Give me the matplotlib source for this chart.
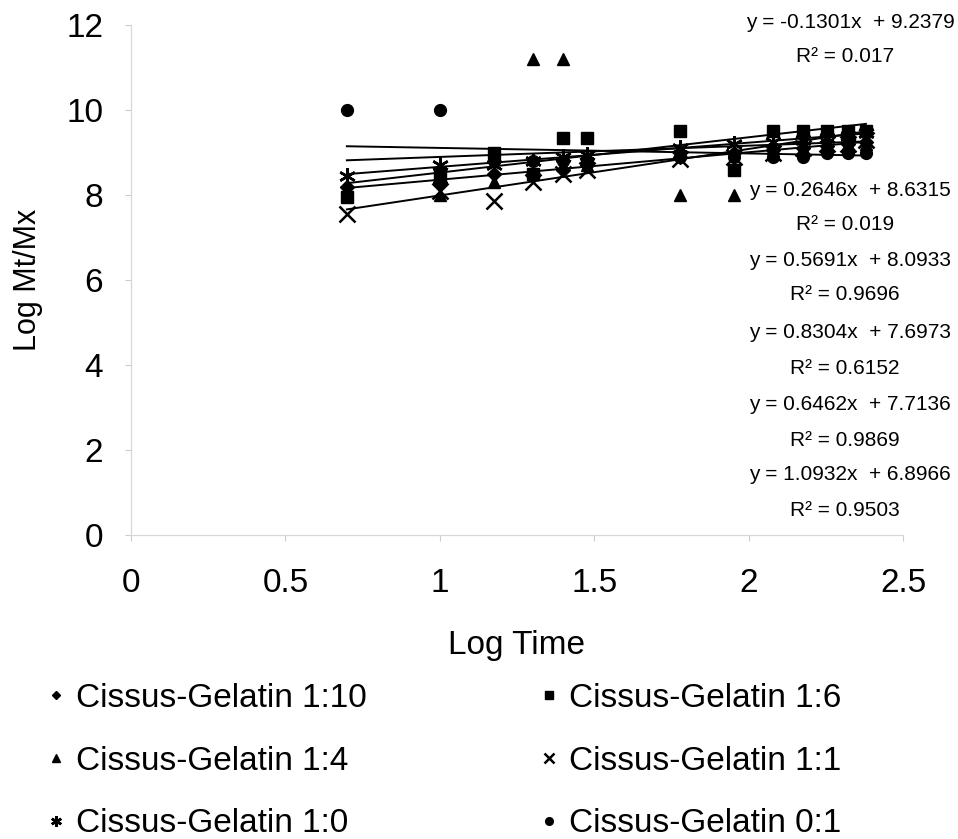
import matplotlib
matplotlib.use("Agg")
import matplotlib.pyplot as plt
import numpy as np

plt.rcParams['font.family'] = ['Liberation Sans', 'DejaVu Sans']

log_time = [0.699, 1.0, 1.176, 1.301, 1.398, 1.477, 1.778, 1.954, 2.079, 2.176, 2.255, 2.322, 2.380]

series_names = ["Cissus-Gelatin 1:10", "Cissus-Gelatin 1:6", "Cissus-Gelatin 1:4",
                "Cissus-Gelatin 1:1", "Cissus-Gelatin 1:0", "Cissus-Gelatin 0:1"]

cg_1_10 = [8.2, 8.3, 8.5, 8.5, 8.6, 8.7, 8.9, 9.0, 9.05, 9.1, 9.15, 9.2, 9.25]
cg_1_6 = [7.95, 8.5, 9.0, 8.5, 9.35, 9.35, 9.5, 8.6, 9.5, 9.5, 9.5, 9.5, 9.5]
cg_1_4 = [8.0, 8.0, 8.3, 11.2, 11.2, 8.7, 8.0, 8.0, 9.1, 9.1, 9.1, 9.2, 9.2]
cg_1_1 = [7.55, 8.1, 7.85, 8.3, 8.5, 8.6, 8.85, 8.9, 9.0, 9.1, 9.2, 9.2, 9.3]
cg_1_0 = [8.45, 8.7, 8.7, 8.8, 8.9, 8.95, 9.1, 9.2, 9.25, 9.3, 9.35, 9.4, 9.45]
cg_0_1 = [10.0, 10.0, 8.8, 8.8, 8.8, 8.8, 8.9, 8.9, 8.9, 8.9, 9.0, 9.0, 9.0]

# trendline coefficients as printed on the chart (same order as series)
slopes = [0.6462, 0.8304, 0.2646, 1.0932, 0.5691, -0.1301]
intercepts = [7.7136, 7.6973, 8.6315, 6.8966, 8.0933, 9.2379]
r2_values = ["0.9869", "0.6152", "0.019", "0.9503", "0.9696", "0.017"]

markers = ['D', 's', '^', 'x', (6, 2, 0), 'o']
msizes = [7, 8.5, 9, 11, 12, 8.5]

fig = plt.figure(figsize=(9.58, 8.39), dpi=100)
ax = fig.add_axes([131/958, 1 - 535/839, (903-131)/958, 510/839])

all_series = [cg_1_10, cg_1_6, cg_1_4, cg_1_1, cg_1_0, cg_0_1]
handles = []
for name, ys, m, s in zip(series_names, all_series, markers, msizes):
    h, = ax.plot(log_time, ys, linestyle='none', marker=m, markersize=s,
                 color='black', markeredgewidth=1.8 if m in ('x', (6, 2, 0)) else 1.0,
                 label=name)
    handles.append(h)

xl = np.array([min(log_time), max(log_time)])
for b, a in zip(slopes, intercepts):
    ax.plot(xl, b * xl + a, color='black', linewidth=1.4)

ax.set_xlim(0, 2.5)
ax.set_ylim(0, 12)
ax.set_xticks([0, 0.5, 1, 1.5, 2, 2.5])
ax.set_xticklabels(['0', '0.5', '1', '1.5', '2', '2.5'])
ax.set_yticks([0, 2, 4, 6, 8, 10, 12])
for side in ['top', 'right']:
    ax.spines[side].set_visible(False)
for side in ['left', 'bottom']:
    ax.spines[side].set_color('#dcd6d6')
    ax.spines[side].set_linewidth(0.9)
ax.tick_params(axis='both', colors='#cccccc', labelcolor='black', labelsize=24, length=4, width=0.8)
ax.tick_params(axis='x', pad=20)
ax.tick_params(axis='y', pad=16)
ax.set_xlabel('Log Time', fontsize=24, labelpad=22)
ax.set_ylabel('Log Mt/Mx', fontsize=22, labelpad=17)

# trendline equation labels
def eq(b, a):
    sign = '-' if b < 0 else ''
    return f"y = {sign}{abs(b):.4f}x  + {a:.4f}"

label_order = [5, 2, 4, 1, 0, 3]
label_y = [22, 190, 260, 333, 405, 475]
for idx, yp in zip(label_order, label_y):
    fig.text(850/958, 1 - yp/839, eq(slopes[idx], intercepts[idx]), fontsize=15,
             ha='center', va='center')
    fig.text(845/958, 1 - (yp + 35)/839, f"R² = {r2_values[idx]}", fontsize=15,
             ha='center', va='center')

# row-major legend order: (1:10, 1:6), (1:4, 1:1), (1:0, 0:1)
order = [0, 2, 4, 1, 3, 5]
leg = fig.legend([handles[i] for i in order], [series_names[i] for i in order],
                 ncol=2, loc='upper left', bbox_to_anchor=(48/958, 1 - 683/839),
                 frameon=False, fontsize=24, markerscale=0.65, handlelength=0.5,
                 handletextpad=0.35, labelspacing=0.95, columnspacing=5.2,
                 borderpad=0, borderaxespad=0)

fig.savefig('out.png', dpi=100)
